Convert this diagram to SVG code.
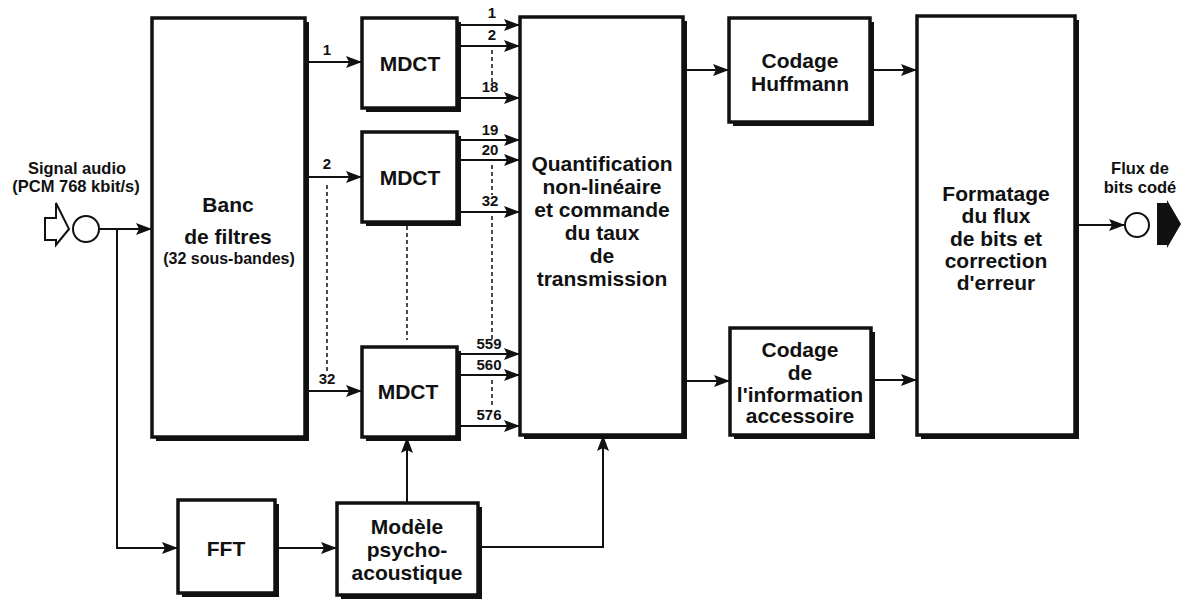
<svg xmlns="http://www.w3.org/2000/svg" width="1184" height="599" viewBox="0 0 1184 599">
<style>
.box{fill:#fff;stroke:#111;stroke-width:3.5}
.sh{fill:#111}
.t{font-family:"Liberation Sans",Arial,sans-serif;font-weight:bold;fill:#111;text-anchor:middle}
.big{font-size:21px}
.med{font-size:16.5px}
.sub{font-size:16px}
.sm{font-size:15px}
.ln{fill:none;stroke:#111;stroke-width:2}
.ar{fill:none;stroke:#111;stroke-width:2;marker-end:url(#ah)}
.da{fill:none;stroke:#111;stroke-width:1.5;stroke-dasharray:4 3}
</style>
<defs>
<marker id="ah" markerUnits="userSpaceOnUse" markerWidth="16" markerHeight="12" viewBox="0 0 16 12" refX="16" refY="6" orient="auto">
<path d="M0,0 L16,6 L0,12 L3,6 Z" fill="#111"/>
</marker>
</defs>
<rect width="1184" height="599" fill="#fff"/>

<g id="banc">
<rect class="sh" x="156" y="22" width="153" height="419"/>
<rect class="box" x="152" y="18" width="153" height="419"/>
<text class="t big" x="228" y="212">Banc</text>
<text class="t big" x="228" y="244">de filtres</text>
<text class="t sub" x="229" y="264">(32 sous-bandes)</text>
</g>

<g id="mdct1">
<rect class="sh" x="366" y="22" width="95" height="90"/>
<rect class="box" x="362" y="18" width="95" height="90"/>
<text class="t big" x="410" y="71">MDCT</text>
</g>
<g id="mdct2">
<rect class="sh" x="366" y="136" width="95" height="90"/>
<rect class="box" x="362" y="132" width="95" height="90"/>
<text class="t big" x="410" y="185">MDCT</text>
</g>
<g id="mdct3">
<rect class="sh" x="366" y="351" width="95" height="90"/>
<rect class="box" x="362" y="347" width="95" height="90"/>
<text class="t big" x="408" y="399">MDCT</text>
</g>

<g id="quant">
<rect class="sh" x="524" y="21" width="163" height="418"/>
<rect class="box" x="520" y="17" width="163" height="418"/>
<text class="t big" x="602" y="171">Quantification</text>
<text class="t big" x="602" y="194">non-linéaire</text>
<text class="t big" x="602" y="217">et commande</text>
<text class="t big" x="602" y="240">du taux</text>
<text class="t big" x="602" y="263">de</text>
<text class="t big" x="602" y="286">transmission</text>
</g>

<g id="huffmann">
<rect class="sh" x="733" y="22" width="141" height="104"/>
<rect class="box" x="729" y="18" width="141" height="104"/>
<text class="t big" x="800" y="68">Codage</text>
<text class="t big" x="800" y="91">Huffmann</text>
</g>

<g id="info">
<rect class="sh" x="734" y="332" width="141" height="107"/>
<rect class="box" x="730" y="328" width="141" height="107"/>
<text class="t big" x="800" y="357">Codage</text>
<text class="t big" x="800" y="380">de</text>
<text class="t big" x="800" y="402">l'information</text>
<text class="t big" x="800" y="423">accessoire</text>
</g>

<g id="formatage">
<rect class="sh" x="921" y="20" width="158" height="419"/>
<rect class="box" x="917" y="16" width="158" height="419"/>
<text class="t big" x="996" y="201">Formatage</text>
<text class="t big" x="996" y="223">du flux</text>
<text class="t big" x="996" y="246">de bits et</text>
<text class="t big" x="996" y="268">correction</text>
<text class="t big" x="996" y="290">d'erreur</text>
</g>

<g id="fft">
<rect class="sh" x="182" y="504" width="97" height="93"/>
<rect class="box" x="178" y="500" width="97" height="93"/>
<text class="t big" x="226" y="556">FFT</text>
</g>

<g id="modele">
<rect class="sh" x="341" y="507" width="141" height="92"/>
<rect class="box" x="337" y="503" width="141" height="92"/>
<text class="t big" x="407" y="534">Modèle</text>
<text class="t big" x="407" y="557">psycho-</text>
<text class="t big" x="407" y="580">acoustique</text>
</g>

<g id="input">
<text class="t med" x="77" y="174">Signal audio</text>
<text class="t med" x="76" y="192">(PCM 768 kbit/s)</text>
<path d="M45,218 L56,218 L56,203 L69,229 L56,245 L56,240 L45,240 Z" fill="#fff" stroke="#111" stroke-width="2"/>
<circle cx="86" cy="229" r="13" fill="#fff" stroke="#111" stroke-width="2"/>
</g>

<g id="output">
<text class="t med" x="1140" y="174">Flux de</text>
<text class="t med" x="1140" y="193">bits codé</text>
<circle cx="1137" cy="225" r="12" fill="#fff" stroke="#111" stroke-width="2"/>
<path d="M1157,203 L1167,203 L1167,200 L1181,224 L1167,248 L1167,245 L1157,245 Z" fill="#111"/>
</g>

<g id="connectors">
<path class="ar" d="M99,229 H152"/>
<path class="ar" d="M117,229 V548 H178"/>
<path class="ar" d="M275,548 H337"/>
<path class="ar" d="M407,503 V437"/>
<path class="ar" d="M478,547 H603 V435"/>

<path class="ar" d="M305,62 H362"/>
<path class="ar" d="M305,177 H362"/>
<path class="ar" d="M305,391 H362"/>
<text class="t sm" x="327" y="55">1</text>
<text class="t sm" x="327" y="169">2</text>
<text class="t sm" x="327" y="384">32</text>
<path class="da" d="M327,185 V372"/>
<path class="da" d="M407,226 V340"/>

<path class="ar" d="M457,25 H520"/>
<path class="ar" d="M457,46 H520"/>
<path class="ar" d="M457,98 H520"/>
<text class="t sm" x="492" y="18">1</text>
<text class="t sm" x="492" y="40">2</text>
<text class="t sm" x="490" y="92">18</text>
<path class="da" d="M492,50 V82"/>

<path class="ar" d="M457,140 H520"/>
<path class="ar" d="M457,160 H520"/>
<path class="ar" d="M457,212 H520"/>
<text class="t sm" x="490" y="135">19</text>
<text class="t sm" x="490" y="155">20</text>
<text class="t sm" x="490" y="206">32</text>
<path class="da" d="M492,165 V195"/>
<path class="da" d="M492,216 V340"/>

<path class="ar" d="M457,354 H520"/>
<path class="ar" d="M457,375 H520"/>
<path class="ar" d="M457,426 H520"/>
<text class="t sm" x="489" y="349">559</text>
<text class="t sm" x="489" y="370">560</text>
<text class="t sm" x="489" y="420">576</text>
<path class="da" d="M492,380 V408"/>

<path class="ar" d="M683,70 H729"/>
<path class="ar" d="M683,381 H730"/>
<path class="ar" d="M870,70 H917"/>
<path class="ar" d="M871,380 H917"/>
<path class="ar" d="M1075,225 H1125"/>
</g>
</svg>
